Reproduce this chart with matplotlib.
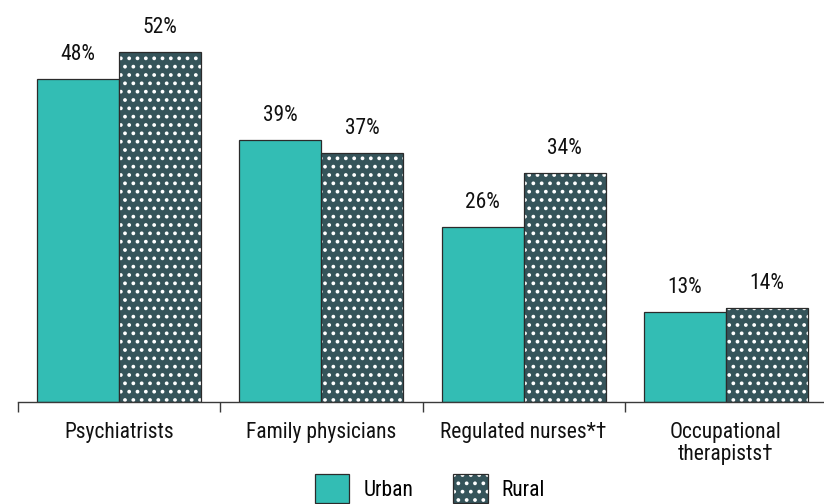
import matplotlib
matplotlib.use("Agg")
import matplotlib.pyplot as plt
from matplotlib import font_manager
import numpy as np

categories = ["Psychiatrists", "Family physicians", "Regulated nurses*\u2020",
              "Occupational\ntherapists\u2020"]
urban = [48, 39, 26, 13.4]
rural = [52, 37, 34, 14]
series = ["Urban", "Rural"]

URBAN_C = "#33bdb4"
RURAL_C = "#35545a"
EDGE_C = "#2b2b2b"

# narrow sans like the source; fall back to plain Liberation Sans a bit smaller
names = {f.name for f in font_manager.fontManager.ttflist}
FS = 13.5
for fam, size in (("Liberation Sans Narrow", 16), ("Roboto Condensed", 15.5),
                  ("Archivo Narrow", 16), ("PT Sans Narrow", 17)):
    if fam in names:
        FS = size
        break
else:
    fam = "Liberation Sans"
plt.rcParams["font.family"] = [fam, "DejaVu Sans"]
plt.rcParams["hatch.linewidth"] = 1.5

W, H = 824, 504
fig = plt.figure(figsize=(W / 100, H / 100), dpi=100)
# axes box in pixels: x 18..827, baseline at y=402
ax = fig.add_axes([18 / W, (H - 402) / H, 809 / W, 402 / H])
ax.set_xlim(-0.5, 3.5)
ax.set_ylim(0, 402 / 6.73)

x = np.arange(len(categories))
bw = 0.405
ax.bar(x - bw / 2, urban, bw, color=URBAN_C, edgecolor=EDGE_C, linewidth=0.9, label=series[0])
rb = ax.bar(x + bw / 2, rural, bw, color=RURAL_C, edgecolor="white", linewidth=0, hatch="..")
ro = ax.bar(x + bw / 2, rural, bw, fill=False, edgecolor=EDGE_C, linewidth=0.9)

for xs, vals in ((x - bw / 2, urban), (x + bw / 2, rural)):
    for xi, v in zip(xs, vals):
        ax.annotate(f"{v:.0f}%", (xi, v), xytext=(0, 13.5), textcoords="offset points",
                    ha="center", va="baseline", fontsize=FS, color="#111111")

for s in ("top", "right", "left"):
    ax.spines[s].set_visible(False)
ax.spines["bottom"].set_color("#3a3a3a")
ax.spines["bottom"].set_linewidth(1.0)
ax.set_yticks([])
ax.set_xticks(np.arange(-0.5, 4.0, 1.0))
ax.set_xticklabels([])
ax.tick_params(axis="x", which="major", direction="out", length=7.2, width=1.0, color="#3a3a3a")
ax.set_xticks(x, minor=True)
ax.set_xticklabels(categories, minor=True, fontsize=FS, color="#111111", linespacing=1.05)
ax.tick_params(axis="x", which="minor", length=0, pad=14.5)

fig.legend([ax.patches[0], (rb.patches[0], ro.patches[0])], series,
           loc="upper left", bbox_to_anchor=(315 / W, 1 - 474 / H),
           ncol=2, frameon=False, fontsize=FS, borderpad=0, borderaxespad=0,
           handlelength=1.6, handleheight=1.7, handletextpad=0.65,
           columnspacing=1.85)

fig.savefig("out.png", dpi=100)
